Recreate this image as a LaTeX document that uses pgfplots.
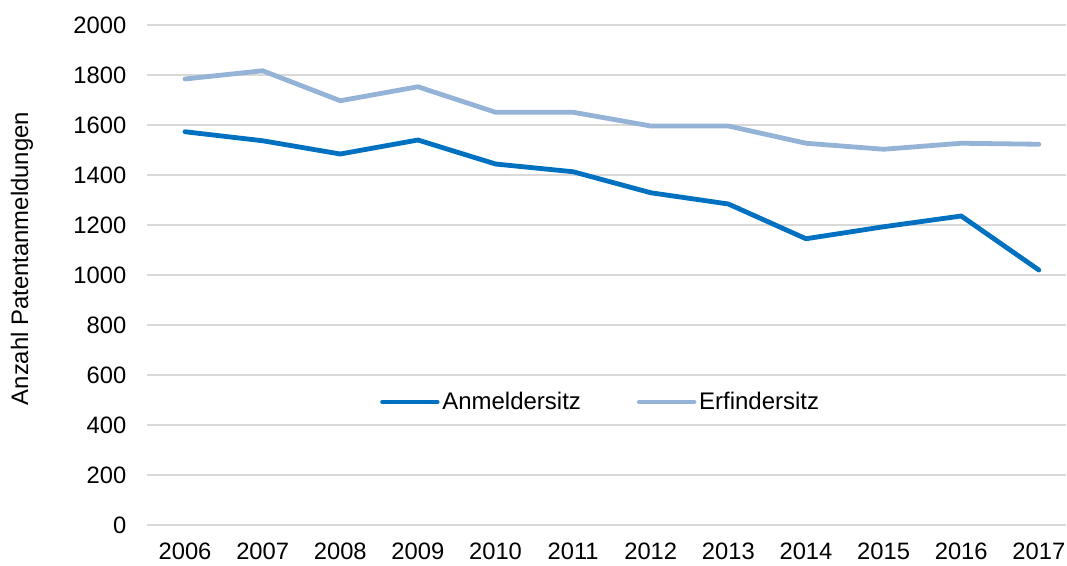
\documentclass[border=0pt]{standalone}
\usepackage{pgfplots}
\pgfplotsset{compat=1.18}
\usepackage{fontspec}
\setmainfont{Liberation Sans}
\definecolor{anm}{HTML}{0070C0}
\definecolor{erf}{HTML}{95B3D7}
\definecolor{gridgray}{HTML}{D9D9D9}
\begin{document}
\begin{tikzpicture}
\useasboundingbox (-110.25pt,-30pt) rectangle (690pt,393.75pt);
\begin{axis}[
  at={(0,0)}, anchor=south west,
  scale only axis,
  width=689.25pt, height=375pt,
  xmin=-0.49, xmax=11.35,
  ymin=0, ymax=2000,
  xtick={0,...,11},
  xticklabels={2006,2007,2008,2009,2010,2011,2012,2013,2014,2015,2016,2017},
  ytick={0,200,...,2000},
  xmajorgrids=false,
  ymajorgrids=true,
  major grid style={draw=gridgray, line width=1.1pt},
  axis line style={draw=none},
  major tick length=0pt,
  /pgf/number format/assume math mode=true,
  /pgf/number format/set thousands separator={},
  tick label style={font=\fontsize{17.8}{20}\selectfont, text=black},
  yticklabel style={xshift=-12pt},
  xticklabel style={yshift=-10pt},
  ylabel={Anzahl Patentanmeldungen},
  ylabel style={font=\fontsize{17.9}{22}\selectfont, at={(axis description cs:-0.136,0.533)}, anchor=center},
  legend style={at={(axis description cs:0.494,0.246)}, anchor=center, draw=none, fill=none,
    font=\fontsize{18}{20}\selectfont, legend columns=2,
    /tikz/every even column/.append style={column sep=40pt}},
  legend cell align=left,
  legend image code/.code={\draw[#1, line cap=round] (0pt,0pt) -- (41pt,0pt);},
]
\addplot[anm, line width=3.6pt, line cap=round, line join=round] coordinates {
(0,1573) (1,1537) (2,1484) (3,1540) (4,1444) (5,1413) (6,1329) (7,1284) (8,1145) (9,1193) (10,1236) (11,1020)};
\addlegendentry{Anmeldersitz}
\addplot[erf, line width=3.6pt, line cap=round, line join=round] coordinates {
(0,1784) (1,1817) (2,1697) (3,1753) (4,1651) (5,1651) (6,1596) (7,1596) (8,1527) (9,1503) (10,1527) (11,1523)};
\addlegendentry{Erfindersitz}
\end{axis}
\end{tikzpicture}
\end{document}
